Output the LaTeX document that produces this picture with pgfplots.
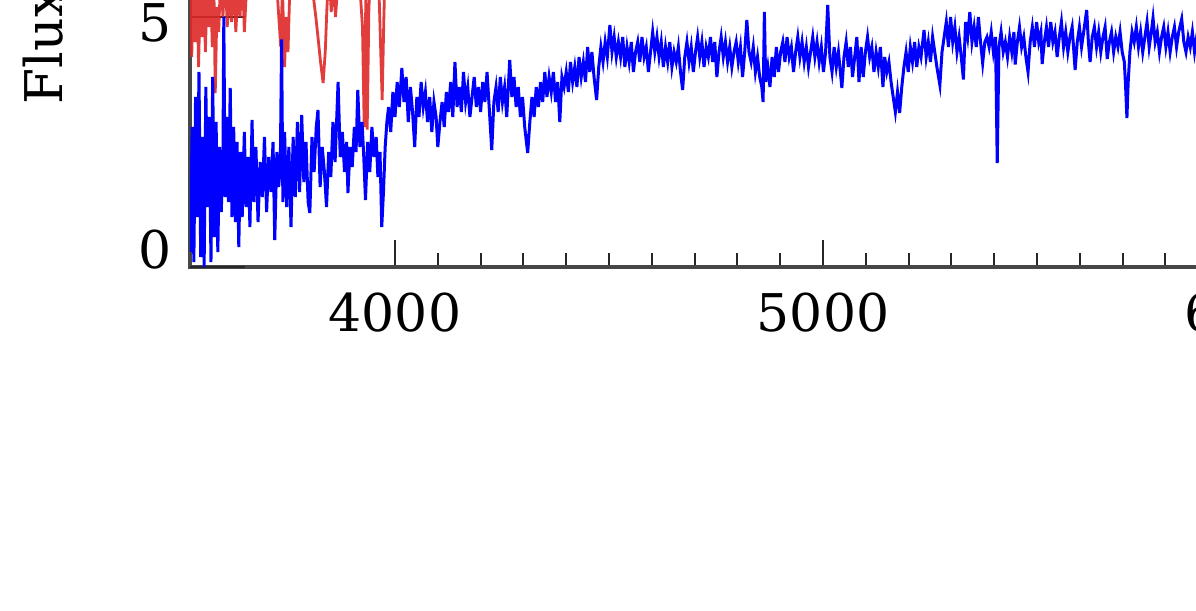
\documentclass[border=0pt]{standalone}
\usepackage{pgfplots}
\pgfplotsset{compat=1.18}
\usepackage{fontspec}
\setmainfont{DejaVu Serif}
\definecolor{specblue}{RGB}{0,0,255}
\definecolor{specred}{RGB}{222,40,40}
\begin{document}
\fontsize{13pt}{15pt}\selectfont
\begin{tikzpicture}
\begin{axis}[
  at={(0,0)}, anchor=south west,
  x=0.107pt, y=12.5pt,
  xmin=3521, xmax=6400, ymin=0, ymax=6.5,
  axis line style={black!72, line width=0.85pt},
  tick style={black!85, line width=0.5pt},
  tick align=inside,
  xtick={4000,5000,6000},
  minor x tick num=9,
  ytick={5},
  extra y ticks={0},
  extra y tick style={yticklabel style={yshift=5.75pt}},
  minor y tick num=4,
  xtick style={/pgfplots/major tick length=6.75pt,/pgfplots/minor tick length=3.5pt},
  ytick style={/pgfplots/major tick length=13.75pt,/pgfplots/minor tick length=6.75pt},
  xticklabel style={yshift=-1.9pt},
  yticklabel style={yshift=-1.4pt},
  /pgf/number format/assume math mode=true,
  /pgf/number format/1000 sep={},
  ylabel={Flux},
  ylabel style={at={(axis cs:3224,3.24)}, anchor=base west, rotate=0, inner sep=0pt},
]
\addplot[specred, line width=0.7pt, opacity=0.9] coordinates {
(3521,5.8) (3525,4.2) (3529,5.6) (3533,4.5) (3537,5.9) (3541,4.0) (3545,5.5) (3549,4.6) (3553,5.7) (3557,4.3)
(3561,5.6) (3565,4.8) (3569,5.8) (3573,4.4) (3577,5.5) (3580,3.48) (3584,5.2) (3588,4.7) (3593,5.9) (3598,5.0)
(3603,6.0) (3608,4.8) (3613,5.6) (3618,4.9) (3623,5.8) (3628,4.7) (3633,5.5) (3638,5.0) (3643,6.0) (3648,4.7)
(3655,5.9) (3662,6.2) (3670,5.9) (3680,6.3) (3690,5.8) (3700,5.6) (3705,6.0) (3712,5.6) (3720,6.1) (3727,5.2)
(3733,4.4) (3737,5.6) (3742,4.0) (3746,5.0) (3750,4.3) (3755,5.8) (3762,6.2) (3770,5.9) (3780,6.3) (3790,5.7)
(3800,6.1) (3808,5.5) (3815,5.0) (3820,4.6) (3826,4.1) (3832,3.68) (3837,4.3) (3841,5.2) (3846,5.9) (3851,5.1)
(3856,5.7) (3861,5.0) (3866,5.6) (3871,6.0) (3880,5.8) (3890,6.2) (3900,5.9) (3910,6.1) (3918,5.6) (3924,4.8)
(3928,2.8) (3932,5.5) (3935,2.75) (3939,5.2) (3945,6.0) (3952,5.7) (3958,6.1) (3963,5.4) (3967,4.2) (3970,3.34)
(3974,5.0) (3978,6.3) (3985,7.0)
};
\addplot[specblue, line width=0.75pt] coordinates {
(3522,0.3) (3526,2.8) (3530,0.1) (3534,3.4) (3538,1.0) (3542,3.9) (3546,0.2) (3550,2.6) (3554,0.0) (3558,3.6)
(3562,1.2) (3566,3.0) (3570,0.1) (3574,3.8) (3578,0.6) (3582,2.9) (3586,0.3) (3590,2.4) (3594,1.1) (3598,2.2)
(3600,5.0) (3603,1.4) (3607,3.0) (3611,1.3) (3615,3.58) (3619,1.0) (3623,2.8) (3627,0.9) (3631,2.5) (3635,0.4)
(3639,2.3) (3643,1.0) (3648,2.7) (3652,1.2) (3657,2.2) (3661,0.8) (3666,2.94) (3670,1.3) (3675,2.4) (3680,0.9)
(3685,2.1) (3690,1.4) (3695,2.6) (3700,1.1) (3705,2.2) (3710,1.5) (3715,2.5) (3719,0.54) (3724,2.3) (3728,1.6)
(3732,2.0) (3735,4.55) (3738,1.3) (3742,2.7) (3747,1.2) (3752,2.4) (3757,0.8) (3762,2.6) (3767,1.4) (3772,2.9)
(3777,1.5) (3782,3.04) (3787,1.7) (3792,2.5) (3797,1.3) (3801,1.08) (3806,2.6) (3811,1.9) (3816,2.8) (3820,3.14)
(3825,1.6) (3830,2.4) (3835,1.9) (3840,1.2) (3845,2.3) (3850,1.8) (3855,2.9) (3860,2.1) (3867,3.7) (3872,2.2)
(3877,2.7) (3882,1.9) (3887,2.5) (3890,1.48) (3895,2.4) (3900,2.0) (3905,2.8) (3909,2.3) (3913,3.54) (3918,2.4)
(3923,2.9) (3927,2.2) (3931,1.34) (3936,2.5) (3941,1.9) (3946,2.8) (3951,2.2) (3956,2.6) (3960,1.8) (3965,2.3)
(3969,0.8) (3973,1.5) (3977,2.4) (3981,2.9) (3985,3.2) (3990,2.7) (3995,3.5) (4000,3.0) (4005,3.7) (4010,3.2)
(4016,3.98) (4021,3.3) (4026,3.8) (4031,2.9) (4036,3.6) (4041,3.1) (4046,2.4) (4051,3.4) (4056,3.0) (4061,3.7)
(4066,3.2) (4071,3.5) (4076,2.9) (4081,3.4) (4086,2.7) (4091,3.3) (4096,3.0) (4100,2.4) (4105,2.9) (4110,3.3)
(4115,2.8) (4120,3.5) (4125,3.1) (4130,3.7) (4135,3.0) (4140,4.1) (4145,3.2) (4150,3.6) (4155,3.1) (4160,3.9)
(4165,3.3) (4170,3.6) (4175,3.0) (4180,3.4) (4185,3.8) (4190,3.2) (4195,3.6) (4200,3.1) (4205,3.7) (4210,3.3)
(4215,3.9) (4220,3.2) (4226,2.34) (4231,3.3) (4236,3.6) (4241,3.1) (4246,3.8) (4251,3.3) (4256,3.6) (4261,3.0)
(4268,4.14) (4273,3.4) (4278,3.8) (4283,3.2) (4288,3.6) (4293,3.0) (4298,3.4) (4303,2.8) (4310,2.28) (4315,2.9)
(4320,3.4) (4325,3.0) (4330,3.6) (4335,3.2) (4340,3.7) (4345,3.3) (4350,3.9) (4355,3.4) (4360,3.8) (4365,3.5)
(4370,3.9) (4375,3.3) (4380,3.7) (4385,2.9) (4390,3.8) (4395,3.6) (4400,3.9) (4405,3.5) (4410,4.1) (4415,3.7)
(4420,4.0) (4425,3.6) (4430,4.2) (4435,3.8) (4440,4.1) (4445,3.7) (4450,4.4) (4455,3.9) (4460,4.3) (4465,3.8)
(4471,3.34) (4476,4.0) (4481,4.4) (4486,4.1) (4491,4.5) (4496,4.2) (4502,4.84) (4507,4.3) (4512,4.6) (4517,4.2)
(4522,4.5) (4527,4.2) (4532,4.6) (4537,4.0) (4542,4.4) (4547,4.1) (4552,4.5) (4557,3.9) (4562,4.3) (4567,4.5)
(4572,4.1) (4577,4.6) (4582,4.2) (4587,4.4) (4592,3.9) (4597,4.3) (4602,4.7) (4607,4.3) (4612,4.6) (4617,4.2)
(4622,4.5) (4627,4.0) (4632,4.4) (4637,4.1) (4642,4.5) (4647,4.0) (4652,4.3) (4657,4.1) (4662,4.4) (4667,3.9)
(4672,3.54) (4677,4.2) (4682,4.5) (4687,4.1) (4692,4.4) (4697,3.9) (4702,4.3) (4707,4.6) (4712,4.2) (4717,4.5)
(4722,4.0) (4727,4.4) (4732,4.2) (4737,4.6) (4742,4.1) (4747,4.5) (4752,3.8) (4757,4.3) (4762,4.6) (4767,4.2)
(4772,4.5) (4777,4.1) (4782,4.4) (4787,4.0) (4792,4.3) (4797,4.5) (4802,4.1) (4807,4.4) (4812,3.8) (4817,4.3)
(4822,4.94) (4827,4.3) (4832,4.1) (4837,4.4) (4842,3.9) (4847,4.2) (4852,3.8) (4857,3.6) (4860,3.3) (4863,5.1)
(4866,3.7) (4871,4.0) (4876,3.6) (4881,4.2) (4886,3.8) (4891,4.4) (4896,3.9) (4901,4.3) (4906,4.5) (4911,4.1)
(4916,4.6) (4921,4.2) (4926,4.4) (4931,3.9) (4936,4.3) (4941,4.6) (4946,4.2) (4951,4.5) (4956,4.1) (4961,4.4)
(4966,4.0) (4971,4.3) (4976,4.6) (4981,4.2) (4986,4.5) (4991,4.1) (4996,4.4) (5001,3.9) (5006,4.3) (5011,5.24)
(5016,4.2) (5021,3.9) (5026,4.4) (5031,4.0) (5036,4.3) (5044,3.58) (5049,4.2) (5054,4.5) (5059,4.0) (5064,4.4)
(5069,3.8) (5074,4.2) (5079,4.6) (5084,3.7) (5089,4.4) (5094,3.8) (5099,4.3) (5104,4.6) (5109,4.2) (5114,4.4)
(5119,3.9) (5124,4.3) (5129,4.0) (5134,4.4) (5140,3.6) (5144,4.2) (5149,3.9) (5154,4.1) (5159,3.7) (5164,3.4)
(5169,3.1) (5174,3.5) (5179,3.08) (5184,3.6) (5189,4.0) (5194,4.3) (5199,3.9) (5204,4.4) (5209,4.1) (5214,4.5)
(5219,4.0) (5224,4.4) (5229,4.2) (5236,4.74) (5241,4.2) (5246,4.5) (5251,4.1) (5256,4.6) (5261,4.3) (5266,4.0)
(5273,3.64) (5278,4.3) (5283,4.6) (5288,4.9) (5293,4.4) (5298,5.0) (5303,4.5) (5308,4.8) (5313,4.3) (5318,4.6)
(5323,4.2) (5328,3.75) (5333,4.9) (5338,4.6) (5343,5.1) (5348,4.5) (5353,4.8) (5358,4.4) (5363,5.0) (5368,4.5)
(5373,4.08) (5378,4.5) (5383,4.6) (5388,4.4) (5393,4.7) (5398,4.3) (5403,4.6) (5407,2.08) (5411,4.4) (5416,4.7)
(5421,4.3) (5426,4.5) (5431,4.2) (5436,4.6) (5441,4.3) (5446,4.7) (5449,4.05) (5454,4.5) (5459,4.8) (5464,4.4)
(5469,4.6) (5474,4.2) (5479,3.9) (5484,4.5) (5489,4.8) (5494,4.4) (5499,4.9) (5504,4.5) (5509,4.7) (5512,4.06)
(5517,4.5) (5522,4.8) (5527,4.4) (5532,4.9) (5537,4.5) (5542,4.7) (5547,4.2) (5552,4.6) (5557,4.9) (5562,4.4)
(5567,4.7) (5572,4.3) (5577,4.6) (5582,4.8) (5589,3.94) (5594,4.5) (5599,4.8) (5604,4.4) (5609,4.7) (5616,5.14)
(5620,4.5) (5624,4.1) (5629,4.6) (5634,4.8) (5639,4.4) (5644,4.7) (5649,4.3) (5654,4.6) (5659,4.8) (5664,4.16)
(5669,4.5) (5674,4.7) (5679,4.3) (5684,4.6) (5689,4.4) (5694,4.7) (5699,4.3) (5704,4.1) (5707,3.6) (5710,2.98)
(5713,3.7) (5717,4.3) (5722,4.7) (5727,4.5) (5732,4.8) (5737,4.4) (5742,4.7) (5747,4.3) (5752,4.6) (5757,4.9)
(5762,4.4) (5767,4.7) (5771,4.98) (5776,4.5) (5781,4.7) (5786,4.3) (5791,4.6) (5796,4.8) (5801,4.4) (5806,4.7)
(5811,4.3) (5816,4.6) (5821,4.8) (5826,4.4) (5831,4.7) (5838,4.96) (5843,4.5) (5848,4.3) (5853,4.6) (5858,4.4)
(5863,4.7) (5868,4.3) (5873,4.6) (5880,4.5)
};
\end{axis}
\pgfresetboundingbox
\path[use as bounding box] (-47.5pt,-85.75pt) rectangle (251.5pt,66.75pt);
\end{tikzpicture}
\end{document}
